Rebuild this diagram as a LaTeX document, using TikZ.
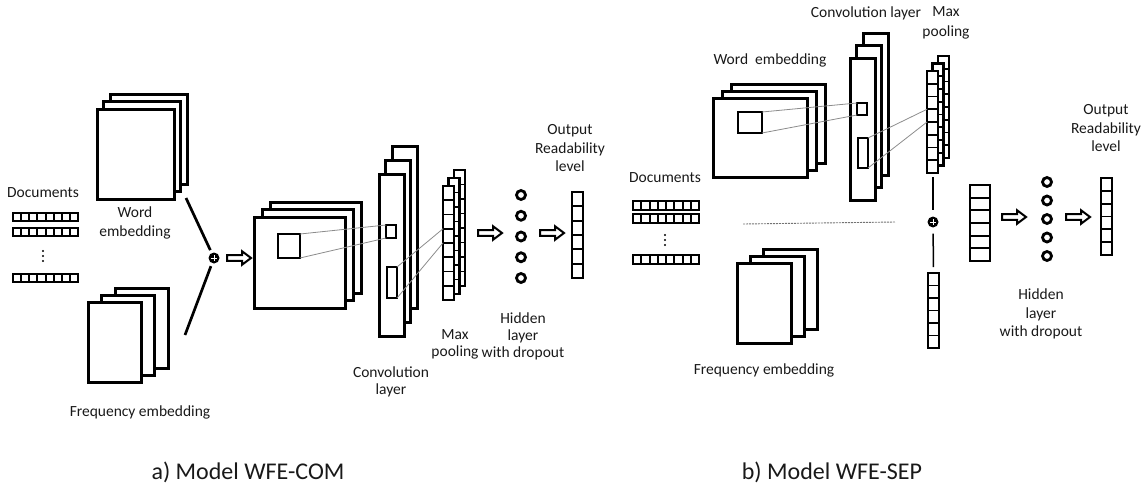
\documentclass[tikz,border=0pt]{standalone}
\usepackage{fontspec}
\setmainfont{Carlito}
\begin{document}
\begin{tikzpicture}[x=1pt,y=-1pt,
  pg/.style={draw=black, fill=white, line width=3pt, rectangle, inner sep=0pt, outer sep=0pt, anchor=north west},
  vc/.style={draw=black, fill=white, line width=2.6pt, rectangle, inner sep=0pt, outer sep=0pt, anchor=north west},
  cl/.style={line width=1.8pt},
  gl/.style={draw=black!45, line width=0.8pt},
  conn/.style={line width=2.7pt},
  vconn/.style={line width=1.5pt},
  lbl/.style={font=\fontsize{15.5}{17}\selectfont, align=center, inner sep=0pt, text=black!90},
  captxt/.style={font=\fontsize{24}{28}\selectfont, inner sep=0pt, text=black!90},
  neuron/.style={circle, draw, line width=2.8pt, minimum size=9pt, inner sep=0pt},
  plusc/.style={circle, fill=black, minimum size=11pt, inner sep=0pt},
  harrow/.pic={\draw[line width=2pt, fill=white, line join=miter] (0,-2.8) -- (15,-2.8) -- (15,-6.8) -- (24,0) -- (15,6.8) -- (15,2.8) -- (0,2.8) -- cycle;}
]
\useasboundingbox (0,0) rectangle (1148,493);
\newcommand\mkpg[5]{\node[pg, minimum width={(#4)*1pt}, minimum height={(#5)*1pt}] (#1) at (#2,#3) {};}
\newcommand\mkvvec[6]{\node[vc, minimum width={(#4-#2)*1pt}, minimum height={(#5-#3)*1pt}] (#1) at (#2,#3) {};
  \foreach \k in {2,...,#6} \draw[cl] (#2,{#3+(#5-#3)*(\k-1)/#6}) -- (#4,{#3+(#5-#3)*(\k-1)/#6});}
\newcommand\mkhvec[6]{\node[vc, line width=2.4pt, minimum width={(#4-#2)*1pt}, minimum height={(#5-#3)*1pt}] (#1) at (#2,#3) {};
  \foreach \k in {2,...,#6} \draw[line width=2pt] ({#2+(#4-#2)*(\k-1)/#6},#3) -- ({#2+(#4-#2)*(\k-1)/#6},#5);}
\newcommand\vdotsat[2]{\foreach \d in {0,5,10} \fill (#1,#2+\d) circle (1.1);}
\newcommand\pluscross[1]{\draw[white, line width=0.9pt] (#1.center) ++(-3.2,0) -- ++(6.4,0); \draw[white, line width=0.9pt] (#1.center) ++(0,-3.2) -- ++(0,6.4);}

% ================= LEFT: WFE-COM =================
\node[lbl] (docA) at (43,193) {Documents};
\mkhvec{dA1}{13}{213}{78}{221}{8}
\mkhvec{dA2}{13}{228}{78}{236}{8}
\vdotsat{43}{251}
\mkhvec{dA3}{13}{274}{78}{282}{8}

% word embedding
\mkpg{wA3}{110}{94}{77}{90}
\mkpg{wA2}{103.5}{101.5}{77}{90}
\mkpg{wA1}{97}{109}{77}{90}
\node[lbl] (wAl) at (135,223) {Word\\[1.5pt]embedding};

% frequency embedding
\mkpg{fA3}{115}{288}{53}{80}
\mkpg{fA2}{101.5}{295}{53}{80}
\mkpg{fA1}{88}{302}{53}{80}
\node[lbl] (fAl) at (140,412) {Frequency embedding};

% combine
\node[plusc] (pA) at (214,258) {};
\pluscross{pA}
\coordinate (cwA) at (186,198);
\coordinate (cfA) at (185,335);
\draw[conn, shorten >=3pt] (cwA) -- (pA);
\draw[conn, shorten >=3pt] (cfA) -- (pA);
\pic at (227,258) {harrow};

% feature maps
\mkpg{mA3}{270}{202}{91}{91}
\mkpg{mA2}{262}{209.5}{91}{91}
\mkpg{mA1}{254}{217}{91}{91}
\node[vc, line width=2.7pt, minimum width=22pt, minimum height=24pt] (sqA) at (278,234) {};

% convolution
\mkpg{cA3}{392}{146}{25}{162}
\mkpg{cA2}{385.5}{160}{25}{162}
\mkpg{cA1}{379}{174}{25}{162}
\node[vc, line width=2.5pt, minimum width=10pt, minimum height=13pt] (csA) at (386,225) {};
\node[vc, line width=2.5pt, minimum width=10pt, minimum height=31pt] (ctA) at (387,267) {};
\draw[gl] (sqA.north east) -- (csA.north west);
\draw[gl] (sqA.south east) -- (csA.south west);
\node[lbl] (cAl) at (391,382) {Convolution\\layer};

% max pooling
\mkvvec{pA3}{454}{170}{465}{286}{8}
\mkvvec{pA2}{448.5}{178}{459.5}{294}{8}
\mkvvec{pA1}{443}{186}{454}{300}{8}
\coordinate (pAa) at (443,228.75);
\coordinate (pAb) at (443,243);
\draw[gl] (ctA.north east) -- (pAa);
\draw[gl] (ctA.south east) -- (pAb);
\node[lbl] (mAl) at (455,344.5) {Max\\pooling};

\pic at (478,233) {harrow};
% hidden
\foreach \i/\yy in {1/195,2/215.75,3/236.5,4/257.25,5/278} \node[neuron] (hA\i) at (521,\yy) {};
\node[lbl] (hAl) at (523,336) {Hidden\\layer\\with dropout};
\pic at (540,233) {harrow};
% output
\mkvvec{oA}{572}{192}{583}{278}{6}
\node[lbl] (oAl) at (570,148.5) {Output\\[1.5pt]Readability\\[1.5pt]level};

\node[captxt] (capA) at (248,472) {a) Model WFE-COM};

% ================= RIGHT: WFE-SEP =================
\node[lbl] (docB) at (665,178) {Documents};
\mkhvec{dB1}{633}{201}{699}{210}{8}
\mkhvec{dB2}{633}{214}{699}{223}{8}
\vdotsat{665}{235}
\mkhvec{dB3}{633}{255}{699}{264}{8}

% word embedding
\node[lbl] (wBl) at (770,60) {Word~ embedding};
\mkpg{wB3}{731}{84}{94}{79}
\mkpg{wB2}{722}{91}{94}{79}
\mkpg{wB1}{713}{98}{94}{79}
\node[vc, line width=2.7pt, minimum width=24pt, minimum height=21pt] (sqB) at (738,112) {};

% convolution
\node[lbl] (cBl) at (866,13) {Convolution layer};
\mkpg{cB3}{863}{33}{25}{142}
\mkpg{cB2}{856.5}{45.5}{25}{142}
\mkpg{cB1}{850}{58}{25}{142}
\node[vc, line width=2.5pt, minimum width=10pt, minimum height=12pt] (csB) at (857,103) {};
\node[vc, line width=2.5pt, minimum width=10pt, minimum height=30pt] (ctB) at (858,138) {};
\draw[gl] (sqB.north east) -- (csB.north west);
\draw[gl] (sqB.south east) -- (csB.south west);

% max pooling
\node[lbl] (mBl) at (946,23) {Max\\[3pt]pooling};
\mkvvec{pB3}{938}{56}{949}{158}{8}
\mkvvec{pB2}{932.5}{63.5}{943.5}{165.5}{8}
\mkvvec{pB1}{927}{71}{938}{173}{8}
\coordinate (pBa) at (927,109.25);
\coordinate (pBb) at (927,122);
\draw[gl] (ctB.north east) -- (pBa);
\draw[gl] (ctB.south east) -- (pBb);

% dashed separator
\coordinate (dsa) at (743,224);
\coordinate (dsb) at (895,222);
\draw[black!55, line width=0.9pt, dash pattern=on 2pt off 1pt] (dsa) -- (dsb);

% frequency embedding
\mkpg{fB3}{763}{249}{54}{80}
\mkpg{fB2}{750}{256}{54}{80}
\mkpg{fB1}{737}{263}{54}{80}
\node[lbl] (fBl) at (764,370) {Frequency embedding};

% combine
\node[plusc] (pB) at (933,222) {};
\pluscross{pB}
\coordinate (vtop) at (933,177);
\mkvvec{fvB}{928}{273}{939}{348}{6}
\draw[vconn, shorten >=6pt] (vtop) -- (pB);
\draw[vconn, shorten <=6pt, shorten >=6pt] (pB) -- (fvB.north);

\mkvvec{catB}{970}{185}{990}{261}{6}
\pic at (1002,217) {harrow};
\foreach \i/\yy in {1/182,2/200.5,3/219,4/237.5,5/256} \node[neuron] (hB\i) at (1047,\yy) {};
\node[lbl] (hBl) at (1041,314) {Hidden\\[1.5pt]layer\\[1.5pt]with dropout};
\pic at (1066,217) {harrow};
\mkvvec{oB}{1101}{178}{1112}{255}{6}
\node[lbl] (oBl) at (1106,128.5) {Output\\[1.5pt]Readability\\[1.5pt]level};

\node[captxt] (capB) at (832,472) {b) Model WFE-SEP};
\end{tikzpicture}
\end{document}
